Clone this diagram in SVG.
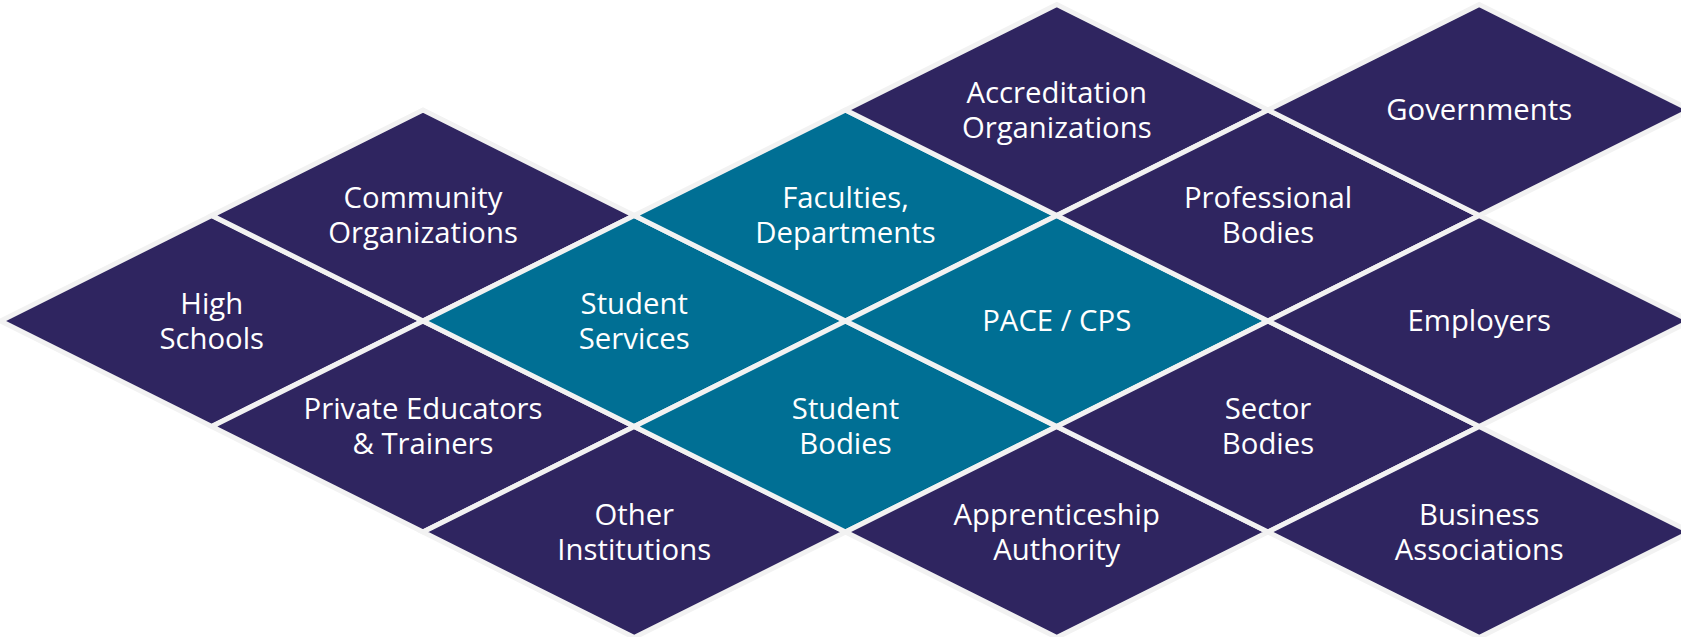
<svg xmlns="http://www.w3.org/2000/svg" xmlns:xlink="http://www.w3.org/1999/xlink" width="1681" height="637" viewBox="0 0 1681 637">
<style>
.dk{fill:#2F2560;stroke:#F2F2F2;stroke-width:5;stroke-linejoin:miter}
.tl{fill:#006F94;stroke:#F2F2F2;stroke-width:5;stroke-linejoin:miter}
text{font-family:"Open Sans","Noto Sans","Liberation Sans",sans-serif;font-size:29.3px;fill:#FFFFFF;text-anchor:middle;dominant-baseline:central}
</style>
<defs>
<path id="dm" d="M-211.25 0 L0 -105.5 L211.25 0 L0 105.5 Z"/>
</defs>
<rect width="1681" height="637" fill="#FFFFFF"/>
<g id="high-schools"><use href="#dm" xlink:href="#dm" x="211.75" y="321" class="dk"/><text x="211.75" y="302.5">High<tspan x="211.75" dy="35">Schools</tspan></text></g>
<g id="community-organizations"><use href="#dm" xlink:href="#dm" x="423" y="215.5" class="dk"/><text x="423" y="197">Community<tspan x="423" dy="35">Organizations</tspan></text></g>
<g id="private-educators"><use href="#dm" xlink:href="#dm" x="423" y="426.5" class="dk"/><text x="423" y="408">Private Educators<tspan x="423" dy="35">&amp; Trainers</tspan></text></g>
<g id="student-services"><use href="#dm" xlink:href="#dm" x="634.25" y="321" class="tl"/><text x="634.25" y="302.5">Student<tspan x="634.25" dy="35">Services</tspan></text></g>
<g id="other-institutions"><use href="#dm" xlink:href="#dm" x="634.25" y="532" class="dk"/><text x="634.25" y="513.5">Other<tspan x="634.25" dy="35">Institutions</tspan></text></g>
<g id="faculties-departments"><use href="#dm" xlink:href="#dm" x="845.5" y="215.5" class="tl"/><text x="845.5" y="197">Faculties,<tspan x="845.5" dy="35">Departments</tspan></text></g>
<g id="student-bodies"><use href="#dm" xlink:href="#dm" x="845.5" y="426.5" class="tl"/><text x="845.5" y="408">Student<tspan x="845.5" dy="35">Bodies</tspan></text></g>
<g id="accreditation-organizations"><use href="#dm" xlink:href="#dm" x="1056.75" y="110" class="dk"/><text x="1056.75" y="91.5">Accreditation<tspan x="1056.75" dy="35">Organizations</tspan></text></g>
<g id="pace-cps"><use href="#dm" xlink:href="#dm" x="1056.75" y="321" class="tl"/><text x="1056.75" y="319.5">PACE / CPS</text></g>
<g id="apprenticeship-authority"><use href="#dm" xlink:href="#dm" x="1056.75" y="532" class="dk"/><text x="1056.75" y="513.5">Apprenticeship<tspan x="1056.75" dy="35">Authority</tspan></text></g>
<g id="professional-bodies"><use href="#dm" xlink:href="#dm" x="1268" y="215.5" class="dk"/><text x="1268" y="197">Professional<tspan x="1268" dy="35">Bodies</tspan></text></g>
<g id="sector-bodies"><use href="#dm" xlink:href="#dm" x="1268" y="426.5" class="dk"/><text x="1268" y="408">Sector<tspan x="1268" dy="35">Bodies</tspan></text></g>
<g id="governments"><use href="#dm" xlink:href="#dm" x="1479.25" y="110" class="dk"/><text x="1479.25" y="108.5">Governments</text></g>
<g id="employers"><use href="#dm" xlink:href="#dm" x="1479.25" y="321" class="dk"/><text x="1479.25" y="319.5">Employers</text></g>
<g id="business-associations"><use href="#dm" xlink:href="#dm" x="1479.25" y="532" class="dk"/><text x="1479.25" y="513.5">Business<tspan x="1479.25" dy="35">Associations</tspan></text></g>
<g id="connectors"></g>
</svg>
